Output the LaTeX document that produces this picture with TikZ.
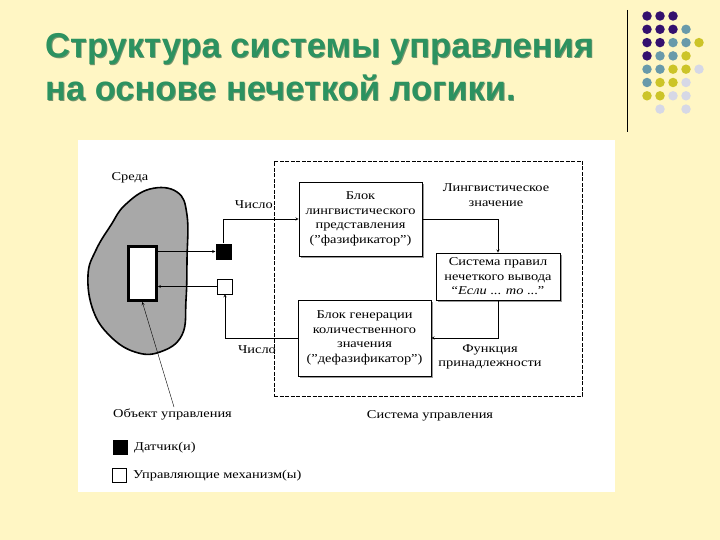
\documentclass[tikz,border=0pt]{standalone}
\usepackage{fontspec}
\setmainfont{Liberation Serif}[FakeStretch=1.2]
\newfontfamily\titlefont{Liberation Sans}
\usetikzlibrary{shadows}
\tikzset{>=stealth}
\definecolor{bgyellow}{RGB}{255,246,196}
\definecolor{titlegreen}{RGB}{44,146,96}
\definecolor{titleshade}{RGB}{120,150,110}
\definecolor{dotpurple}{RGB}{52,16,110}
\definecolor{dotteal}{RGB}{104,154,170}
\definecolor{dotyellow}{RGB}{204,196,40}
\definecolor{dotgray}{RGB}{214,216,230}
\definecolor{blobgray}{RGB}{168,168,168}
\tikzset{
  blok/.style={draw, thick, fill=white, align=center, inner sep=2pt,
    font=\fontsize{12}{14.5}\selectfont,
    drop shadow={shadow xshift=2pt, shadow yshift=-2pt, fill=gray, opacity=0.8}},
  txt/.style={font=\fontsize{12}{14.5}\selectfont, align=center, inner sep=0pt},
  titletxt/.style={anchor=base west, inner sep=0, font=\titlefont\bfseries\fontsize{34.5}{40}\selectfont},
  dot/.style={circle, inner sep=0pt, minimum size=9.5pt}
}

\begin{document}
\begin{tikzpicture}[x=1pt, y=-1pt]
\useasboundingbox (0,0) rectangle (720,540);
\fill[bgyellow] (0,0) rectangle (720,540);
\fill[white] (78,140) rectangle (615,492);

% title
\node[titletxt, text=titleshade] at (45.8,58.8) {Структура системы управления};
\node[titletxt, text=titlegreen] (title1) at (45,58) {Структура системы управления};
\node[titletxt, text=titleshade] at (45.8,101.8) {на основе нечеткой логики.};
\node[titletxt, text=titlegreen] (title2) at (45,101) {на основе нечеткой логики.};

% corner decoration
\draw[line width=1pt] (627,10) -- (627,132);
\foreach \c/\r/\col in {1/1/dotpurple,2/1/dotpurple,3/1/dotpurple,
  1/2/dotpurple,2/2/dotpurple,3/2/dotpurple,4/2/dotteal,
  1/3/dotpurple,2/3/dotpurple,3/3/dotteal,4/3/dotteal,5/3/dotyellow,
  1/4/dotpurple,2/4/dotteal,3/4/dotteal,4/4/dotyellow,
  1/5/dotteal,2/5/dotteal,3/5/dotyellow,4/5/dotyellow,5/5/dotgray,
  1/6/dotteal,2/6/dotyellow,3/6/dotyellow,4/6/dotgray,
  1/7/dotyellow,2/7/dotyellow,3/7/dotgray,4/7/dotgray,
  2/8/dotgray,4/8/dotgray}
  \node[dot, fill=\col] at ({647+(\c-1)*13}, {16+(\r-1)*13.3}) {};

% environment and object
\node[txt] (sreda) at (130,178) {Среда};
\draw[line width=1.6pt, fill=blobgray] plot[smooth cycle, tension=0.7] coordinates {
  (125,205) (150,189) (177,192) (187,215) (187,260) (186,300) (182,335)
  (160,352) (135,352) (110,336) (93,310) (88,275) (96,250) (111,225)};
\node[draw, line width=3pt, fill=white, minimum width=28pt, minimum height=54pt, inner sep=0] (obj) at (142.3,273.5) {};

% sensor and actuator
\node[fill=black, minimum size=16pt, inner sep=0] (sensor) at (223.5,251.5) {};
\node[draw, fill=white, minimum size=15pt, inner sep=0] (act) at (225,286.5) {};

% control system
\node[draw, dash pattern=on 4pt off 1.5pt, minimum width=308pt, minimum height=235pt, inner sep=0] (sys) at (428,278.5) {};
\node[blok, minimum width=123pt, minimum height=74pt] (fuz) at (360.5,219)
  {Блок\\лингвистического\\представления\\("фазификатор")};
\node[blok, minimum width=124pt, minimum height=47pt] (rules) at (498,276.5)
  {Система правил\\нечеткого вывода\\``\textit{Если} ... \textit{то} ...''};
\node[blok, minimum width=133pt, minimum height=76pt] (defuz) at (364.5,338)
  {Блок генерации\\количественного\\значения\\("дефазификатор")};

% connectors
\draw[->] (obj.east |- sensor.west) -- (sensor.west);
\draw[->] (act.west) -- (obj.east |- act.west);
\draw[->] (sensor.north) |- (fuz.west);
\draw[->] (fuz.east) -| (rules.north);
\draw[->] (rules.south) |- (defuz.east);
\draw[->] (defuz.west) -| (act.south);

% labels
\node[txt, anchor=east] (num1) at (273,205) {Число};
\node[txt] (num2) at (257,350) {Число};
\node[txt] (lingv) at (496,195) {Лингвистическое\\значение};
\node[txt] (func) at (490,357) {Функция\\принадлежности};
\node[txt, anchor=west] (objlbl) at (113,414) {Объект управления};
\coordinate (ptr) at (174,407);
\draw[->] (ptr) -- (obj.south);
\node[txt] (syslbl) at (430,416) {Система управления};

% legend
\node[fill=black, minimum size=15pt, inner sep=0] (legs) at (120,447.5) {};
\node[txt, anchor=west] (legstxt) at (134,448) {Датчик(и)};
\node[draw, fill=white, minimum size=14pt, inner sep=0] (lega) at (119.5,475.5) {};
\node[txt, anchor=west] (legatxt) at (133,476) {Управляющие механизм(ы)};
\end{tikzpicture}
\end{document}
